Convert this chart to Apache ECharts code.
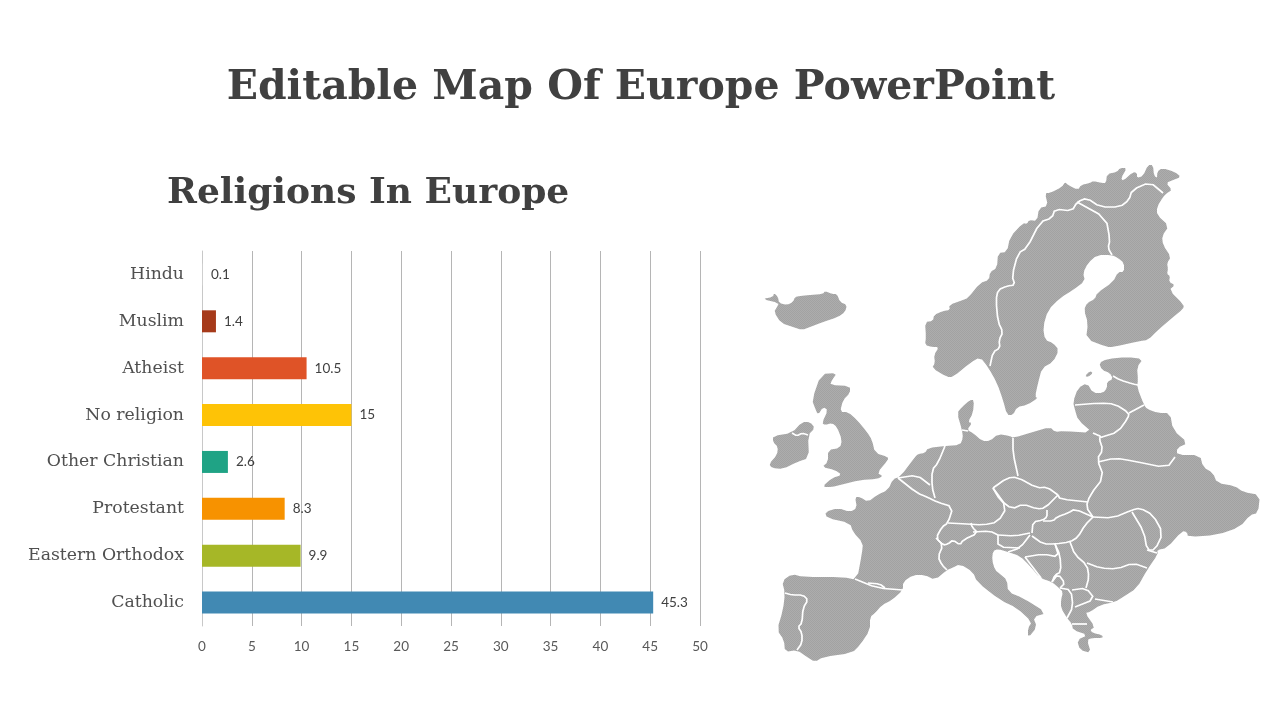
<!DOCTYPE html>
<html>
<head>
<meta charset="utf-8">
<title>Editable Map Of Europe PowerPoint</title>
<style>
  html, body { margin: 0; padding: 0; background: #fff; }
  #chart { width: 1280px; height: 720px; }
</style>
<script src="https://cdn.jsdelivr.net/npm/echarts@6/dist/echarts.min.js"></script>
</head>
<body>
<div id="chart"></div>
<script>
// chart data, bottom row first
const categories = ['Catholic', 'Eastern Orthodox', 'Protestant', 'Other Christian', 'No religion', 'Atheist', 'Muslim', 'Hindu'];
const values = [45.3, 9.9, 8.3, 2.6, 15, 10.5, 1.4, 0.1];
const barColors = ['#4189b3', '#a6b727', '#f79200', '#1fa385', '#fec306', '#df5327', '#a63a1a', '#cfcfcf'];

// map outlines
const iceland = [[762,299],[773,297],[774,293],[778,297],[779,303],[787,305],[793,302],[795,297],[800,296],[810,295],[823,294],[825,291],[832,294],[837,294],[840,302],[847,305],[845,312],[838,317],[823,322],[810,327],[802,330],[793,327],[781,323],[774,312],[777,307],[779,303]];
const scandinavia = [[925,322],[933,321],[934,315],[943,311],[950,310],[949,305],[963,300],[968,298],[980,283],[989,280],[990,272],[997,268],[998,253],[1007,252],[1010,237],[1023,223],[1027,224],[1029,220],[1037,221],[1039,208],[1048,206],[1045,193],[1050,193],[1062,187],[1065,182],[1068,185],[1078,190],[1081,185],[1090,183],[1093,181],[1102,183],[1106,183],[1107,174],[1117,172],[1120,168],[1127,168],[1121,178],[1123,181],[1133,172],[1137,173],[1137,178],[1143,176],[1148,165],[1153,165],[1154,176],[1158,178],[1157,172],[1162,168],[1175,172],[1181,177],[1173,180],[1166,183],[1172,190],[1167,193],[1163,197],[1157,207],[1157,215],[1169,226],[1162,236],[1163,245],[1171,257],[1167,263],[1168,269],[1167,274],[1170,276],[1169,282],[1175,285],[1169,290],[1184,305],[1183,309],[1172,318],[1158,330],[1148,340],[1140,341],[1113,347],[1107,347],[1086,339],[1088,323],[1084,310],[1087,303],[1095,299],[1097,293],[1113,282],[1118,272],[1124,272],[1124,263],[1118,258],[1112,255],[1097,255],[1088,263],[1083,273],[1085,281],[1073,290],[1060,298],[1048,310],[1043,327],[1045,340],[1053,343],[1059,350],[1053,362],[1042,368],[1038,383],[1035,397],[1038,398],[1027,405],[1017,407],[1013,415],[1007,415],[1003,400],[997,383],[988,367],[980,357],[970,363],[953,377],[947,377],[932,368],[935,363],[934,355],[939,347],[932,347],[925,345],[926,337]];
const britain = [[812,400],[821,374],[837,373],[832,380],[830,385],[850,386],[850,393],[843,400],[840,412],[848,412],[857,420],[867,432],[872,440],[875,453],[888,457],[888,460],[877,473],[883,476],[877,479],[860,480],[840,485],[832,487],[822,487],[832,478],[842,475],[835,470],[822,467],[828,462],[828,450],[840,448],[842,440],[837,427],[832,423],[825,425],[822,423],[828,410],[823,407],[818,415],[815,408]];
const ireland = [[773,436],[792,433],[802,422],[810,422],[815,428],[808,435],[809,458],[797,462],[783,469],[772,468],[769,464],[777,455],[778,447],[773,442]];
const saaremaa = [[1085,376],[1090,371],[1093,373],[1088,377]];
const mainland = [[782,581],[792,574],[803,577],[843,577],[857,580],[862,553],[863,543],[853,532],[850,523],[827,518],[825,512],[838,508],[850,512],[857,508],[855,497],[860,497],[868,502],[877,495],[888,490],[893,479],[900,477],[915,457],[918,454],[925,453],[928,448],[945,446],[960,445],[963,438],[962,430],[957,413],[962,407],[970,400],[974,400],[973,413],[968,422],[972,423],[967,430],[973,433],[982,441],[990,441],[998,434],[1010,436],[1013,438],[1033,432],[1050,427],[1055,432],[1063,431],[1093,433],[1078,420],[1075,410],[1073,402],[1078,388],[1087,383],[1093,393],[1103,393],[1107,388],[1107,382],[1113,379],[1110,373],[1102,370],[1099,363],[1107,359],[1127,357],[1143,359],[1137,367],[1138,380],[1137,387],[1144,405],[1147,409],[1158,413],[1170,413],[1173,430],[1188,443],[1177,448],[1177,455],[1200,455],[1203,467],[1213,473],[1217,483],[1235,486],[1243,492],[1260,495],[1258,513],[1250,515],[1240,527],[1217,535],[1188,537],[1187,532],[1182,531],[1167,548],[1157,550],[1158,554],[1147,570],[1137,588],[1123,597],[1115,602],[1100,605],[1090,612],[1085,613],[1095,627],[1090,630],[1093,633],[1102,635],[1103,638],[1092,638],[1087,640],[1091,653],[1080,650],[1077,640],[1088,635],[1073,630],[1072,624],[1067,618],[1061,608],[1061,600],[1063,592],[1059,588],[1052,582],[1040,578],[1030,566],[1020,556],[1008,552],[998,549],[993,551],[992,560],[995,570],[1000,574],[1007,580],[1008,592],[1023,598],[1047,613],[1033,617],[1037,627],[1028,638],[1028,628],[1032,622],[1017,608],[1000,600],[977,582],[973,572],[960,564],[952,568],[947,570],[935,580],[925,575],[913,575],[903,582],[903,590],[892,600],[882,605],[875,613],[870,617],[870,630],[860,645],[852,653],[823,657],[815,662],[807,657],[797,650],[785,652],[784,640],[777,630],[783,610],[785,593]];

// white country borders
const borders = [
  [[990,366],[993,352],[1000,348],[999,340],[1003,332],[998,322],[996,300],[998,290],[1007,286],[1015,285],[1012,276],[1018,253],[1027,248],[1040,222],[1052,218],[1055,209],[1072,211],[1077,202],[1087,198],[1100,207],[1120,207],[1129,200],[1132,190],[1150,182],[1163,193]],
  [[1077,202],[1106,218],[1110,240],[1108,248],[1112,255]],
  [[792,433],[797,436],[802,433],[808,435]],
  [[855,579],[877,588],[903,590]],
  [[868,583],[880,584],[885,588]],
  [[785,593],[792,595],[803,595],[808,600],[803,608],[802,623],[798,627],[802,633],[802,643],[797,650]],
  [[898,478],[917,493],[927,497],[937,502],[953,507],[948,523],[942,527],[936,538],[943,545],[938,557],[942,565],[947,570]],
  [[898,478],[917,475],[930,485]],
  [[945,446],[938,463],[932,470],[932,487],[935,498]],
  [[948,523],[967,524],[983,525],[998,522],[1007,507],[993,488]],
  [[993,488],[1007,478],[1017,477],[1037,488],[1047,487],[1058,495]],
  [[993,488],[1000,500],[1012,509],[1023,504],[1037,509],[1045,508],[1058,495]],
  [[1013,438],[1013,453],[1018,476]],
  [[1058,495],[1060,499],[1088,502]],
  [[1093,433],[1102,437],[1099,438],[1103,450],[1097,459],[1104,477],[1090,495],[1086,507],[1093,517]],
  [[1102,437],[1118,432],[1128,418],[1129,413],[1115,404],[1100,403],[1075,405]],
  [[1129,413],[1144,405]],
  [[1113,376],[1120,380],[1133,384],[1138,385]],
  [[1098,462],[1115,458],[1133,461],[1167,468],[1175,457]],
  [[1047,510],[1047,517],[1043,520],[1033,522],[1032,533]],
  [[1043,521],[1053,521],[1057,517],[1068,513],[1075,509],[1093,517]],
  [[1093,517],[1085,525],[1078,537],[1070,542],[1055,544],[1043,544],[1032,536]],
  [[998,535],[1015,536],[1030,533]],
  [[973,532],[990,531],[998,535]],
  [[936,538],[943,545],[948,544],[953,540],[960,545],[963,540],[978,533],[972,527],[971,523]],
  [[998,535],[998,547],[1020,548]],
  [[1030,535],[1020,548],[1008,552]],
  [[1025,557],[1043,554],[1059,557],[1055,544]],
  [[1025,557],[1041,578]],
  [[1055,544],[1060,555],[1061,572],[1055,575],[1052,582]],
  [[1052,582],[1058,574],[1065,583],[1060,588]],
  [[1060,588],[1071,590],[1073,607],[1067,618]],
  [[1072,590],[1086,588],[1095,599],[1075,607]],
  [[1095,599],[1113,602]],
  [[1086,588],[1089,577],[1087,565],[1075,555],[1070,542]],
  [[1087,563],[1100,568],[1117,569],[1133,563],[1147,568]],
  [[1093,517],[1113,518],[1132,510],[1140,508],[1153,515],[1163,533],[1155,550],[1147,550],[1144,532],[1132,512]],
  [[1147,550],[1157,553]],
  [[962,430],[968,431]],
  [[1072,624],[1087,624]]
];

// corner cutting so the traced outlines read as curves, not straight segments
const rounded = (pts, closed) => {
  const out = closed ? [] : [pts[0]];
  const n = pts.length;
  for (let i = 0; i < (closed ? n : n - 1); i++) {
    const a = pts[i];
    const b = pts[(i + 1) % n];
    out.push([a[0] * 0.75 + b[0] * 0.25, a[1] * 0.75 + b[1] * 0.25]);
    out.push([a[0] * 0.25 + b[0] * 0.75, a[1] * 0.25 + b[1] * 0.75]);
  }
  if (!closed) out.push(pts[n - 1]);
  return out;
};
const toGeo = (ring) => ring.map(([x, y]) => [x, -y]);

const landNames = ['Iceland', 'Scandinavia', 'Britain', 'Ireland', 'Saaremaa', 'Mainland'];
const landRings = [iceland, scandinavia, britain, ireland, saaremaa, mainland].map((r) => rounded(r, true));

const allPoints = landRings.flat();
const xs = allPoints.map((p) => p[0]);
const ys = allPoints.map((p) => p[1]);
const mapLeft = Math.min(...xs);
const mapTop = Math.min(...ys);

echarts.registerMap('europe', {
  type: 'FeatureCollection',
  features: landRings.map((ring, i) => ({
    type: 'Feature',
    properties: { name: landNames[i] },
    geometry: { type: 'Polygon', coordinates: [toGeo(ring.concat([ring[0]]))] }
  }))
});

// fine dot texture of the map fill
const dots = document.createElement('canvas');
dots.width = 2;
dots.height = 2;
const dotsCtx = dots.getContext('2d');
dotsCtx.fillStyle = '#adadad';
dotsCtx.fillRect(0, 0, 2, 2);
dotsCtx.fillStyle = '#a2a2a2';
dotsCtx.fillRect(0, 0, 1, 1);
dotsCtx.fillRect(1, 1, 1, 1);

const chart = echarts.init(document.getElementById('chart'));
const option = {
  backgroundColor: '#fff',
  animation: false,
  title: [
    {
      text: 'Editable Map Of Europe PowerPoint',
      left: 636,
      top: 63,
      textAlign: 'center',
      textStyle: { fontFamily: 'DejaVu Serif', fontWeight: 'bold', fontSize: 41, color: '#404040' }
    },
    {
      text: 'Religions In Europe',
      left: 162,
      top: 171,
      textStyle: { fontFamily: 'DejaVu Serif', fontWeight: 'bold', fontSize: 36, color: '#404040' }
    }
  ],
  grid: { left: 202, right: 580, top: 251, bottom: 94 },
  xAxis: {
    type: 'value',
    min: 0,
    max: 50,
    interval: 5,
    axisLine: { show: false },
    axisTick: { show: false },
    axisLabel: { margin: 14, fontFamily: 'Lato', fontSize: 13.5, color: '#595959' },
    splitLine: { lineStyle: { color: '#b5b5b5', width: 1 } }
  },
  yAxis: {
    type: 'category',
    data: categories,
    axisLine: { lineStyle: { color: '#c8c8c8', width: 1 } },
    axisTick: { show: false },
    axisLabel: { margin: 18, fontFamily: 'DejaVu Serif', fontSize: 17.3, color: '#505050' }
  },
  geo: {
    map: 'europe',
    left: mapLeft,
    top: mapTop,
    width: Math.max(...xs) - mapLeft,
    height: Math.max(...ys) - mapTop,
    aspectScale: 1,
    roam: false,
    silent: true,
    itemStyle: { areaColor: { image: dots, repeat: 'repeat' }, borderWidth: 0 },
    emphasis: { disabled: true },
    select: { disabled: true },
    tooltip: { show: false }
  },
  series: [
    {
      type: 'bar',
      barWidth: 22,
      data: values.map((v, i) => ({ value: v, itemStyle: { color: barColors[i] } })),
      label: {
        show: true,
        position: 'right',
        distance: 8,
        fontFamily: 'Lato',
        fontSize: 13.5,
        color: '#404040'
      },
      silent: true
    },
    {
      type: 'lines',
      coordinateSystem: 'geo',
      polyline: true,
      silent: true,
      lineStyle: { color: '#ffffff', width: 1.7, opacity: 1, curveness: 0 },
      data: borders.map((b) => ({ coords: toGeo(rounded(b, false)) }))
    }
  ]
};
chart.setOption(option);
</script>
</body>
</html>
